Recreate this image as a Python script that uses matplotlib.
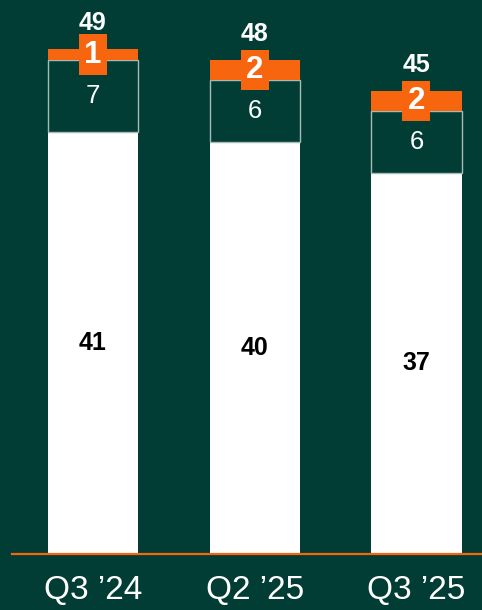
import numpy as np
import matplotlib.pyplot as plt

# data
quarters = ["Q3 \u201924", "Q2 \u201925", "Q3 \u201925"]
base_vals = [41, 40, 37]
mid_vals = [7, 6, 6]
top_vals = [1, 2, 2]
totals = [49, 48, 45]

bg = "#013d34"
orange = "#f7650f"

plt.rcParams['font.family'] = ['Liberation Sans', 'DejaVu Sans']

fig = plt.figure(figsize=(4.82, 6.10), dpi=100, facecolor=bg)
ax = fig.add_axes([12 / 482, 56 / 610, 470 / 482, 554 / 610], facecolor=bg)

x = np.arange(len(quarters))
w = 0.557
base = np.array(base_vals)
mid = np.array(mid_vals)
top = np.array(top_vals)

ax.bar(x, base, w, color="white", edgecolor="none")
ax.bar(x, mid, w, bottom=base, color=bg, edgecolor="#a7bbb5", linewidth=1)
ax.bar(x, top, w, bottom=base + mid, color=orange, edgecolor="none")

for i in range(len(x)):
    ax.text(x[i], base[i] / 2, str(base_vals[i]), ha="center", va="center",
            fontsize=18, fontweight="bold", color="black")
    ax.text(x[i], base[i] + mid[i] / 2, str(mid_vals[i]), ha="center", va="center",
            fontsize=18.5, color="white")
    ax.text(x[i], base[i] + mid[i] + top[i] / 2, str(top_vals[i]), ha="center",
            va="center", fontsize=22.5, fontweight="bold", color="white",
            bbox=dict(boxstyle="square,pad=0.17", fc=orange, ec="none"))
    ax.annotate(str(totals[i]), (x[i], totals[i]), xytext=(0, 19),
                textcoords="offset pixels", ha="center", va="baseline",
                fontsize=18, fontweight="bold", color="white")

ax.set_xlim(-0.5, 2.405)
ax.set_ylim(0, 53.8)
ax.set_xticks(x)
ax.set_xticklabels(quarters, fontsize=24, color="white")
ax.tick_params(axis="x", length=0, pad=15)
ax.set_yticks([])
for s in ["top", "left", "right"]:
    ax.spines[s].set_visible(False)
ax.spines["bottom"].set_color(orange)
ax.spines["bottom"].set_linewidth(1.6)

fig.savefig("out.png", dpi=100, facecolor=bg)
